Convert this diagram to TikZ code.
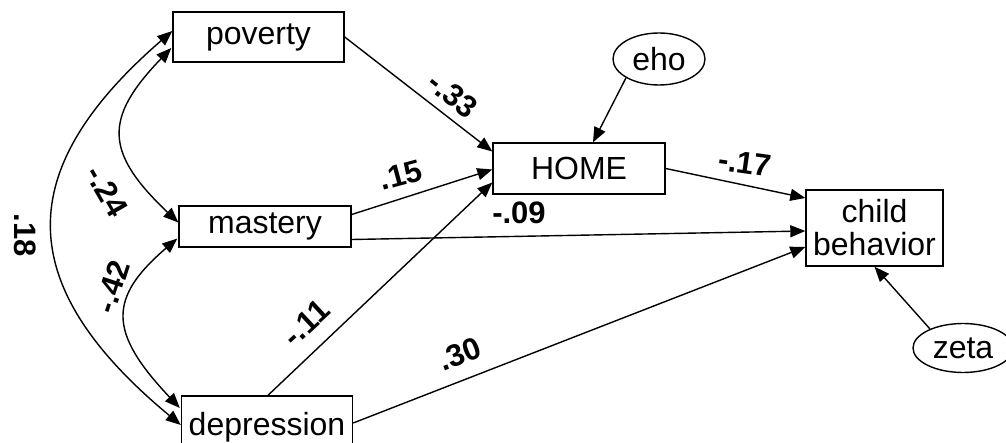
\documentclass[tikz,border=0pt]{standalone}
\usepackage{fontspec}
\setmainfont{Liberation Sans}
\usetikzlibrary{arrows.meta,calc,shapes.geometric}
\begin{document}
\begin{tikzpicture}[x=1pt,y=-1pt,
  box/.style={draw,line width=1.4pt,rectangle,inner sep=0pt,font=\fontsize{32}{33}\selectfont},
  oval/.style={draw,line width=1.4pt,ellipse,inner sep=0pt,font=\fontsize{32}{33}\selectfont},
  path/.style={line width=1.4pt,-{Triangle[length=15pt,width=12pt]}},
  cov/.style={line width=1.4pt,{Triangle[length=15pt,width=12pt]}-{Triangle[length=15pt,width=12pt]}},
  coef/.style={font=\fontsize{31}{32}\selectfont\bfseries,inner sep=0pt}]
\useasboundingbox (0,0) rectangle (1006,443);
\fill[white] (0,0) rectangle (1006,443);
% nodes
\node[box,minimum width=171pt,minimum height=50pt] (pov) at (258.5,37) {poverty};
\node[box,minimum width=172pt,minimum height=41pt] (mas) at (265,226.5) {mastery};
\node[box,minimum width=171pt,minimum height=62pt] (dep) at (267,427) {depression};
\node[box,minimum width=172pt,minimum height=51pt] (home) at (579,168.5) {HOME};
\node[box,minimum width=137pt,minimum height=76pt,align=center] (cb) at (874.5,228) {child\\behavior};
\node[oval,minimum width=92pt,minimum height=52pt] (eho) at (659,59) {eho};
\node[oval,minimum width=100pt,minimum height=49pt] (zeta) at (963,348) {zeta};
% directed paths
\draw[path] (pov.east) -- ($(home.west)+(0,-17)$);
\draw[path] ($(mas.east)+(0,-12)$) -- ($(home.west)+(0,1)$);
\draw[path] ($(dep.north)+(1,0)$) -- ($(home.west)+(0,14)$);
\draw[path] ($(mas.east)+(0,13)$) -- ($(cb.west)+(0,3)$);
\draw[path] ($(dep.east)+(0,-4)$) -- ($(cb.west)+(0,19)$);
\draw[path] (home.east) -- ($(cb.west)+(0,-30)$);
\draw[path] (eho.south west) -- ($(home.north)+(14,0)$);
\draw[path] (zeta.150) -- (cb.south);
% covariances
\draw[cov] ($(pov.west)+(0,-6)$) .. controls (12,170) and (12,285) .. ($(dep.west)+(0,-2)$);
\draw[cov] ($(pov.west)+(-1,11)$) .. controls (104,118) and (104,152) .. ($(mas.west)+(0,-4)$);
\draw[cov] ($(mas.west)+(-1,12)$) .. controls (108,298) and (108,332) .. ($(dep.west)+(-1,-19)$);
% coefficients
\node[coef,rotate=-90] (c18) at (25,235) {.18};
\node[coef,rotate=-60] (c24) at (107,191) {-.24};
\node[coef,rotate=72] (c42) at (112,287) {-.42};
\node[coef,rotate=-38] (c33) at (453,95) {-.33};
\node[coef,rotate=15] (c15) at (401,175) {.15};
\node[coef] (c09) at (519,213) {-.09};
\node[coef,rotate=-8] (c17) at (745,163) {-.17};
\node[coef,rotate=43] (c11) at (306,323) {-.11};
\node[coef,rotate=21] (c30) at (460,354) {.30};
\end{tikzpicture}
\end{document}
